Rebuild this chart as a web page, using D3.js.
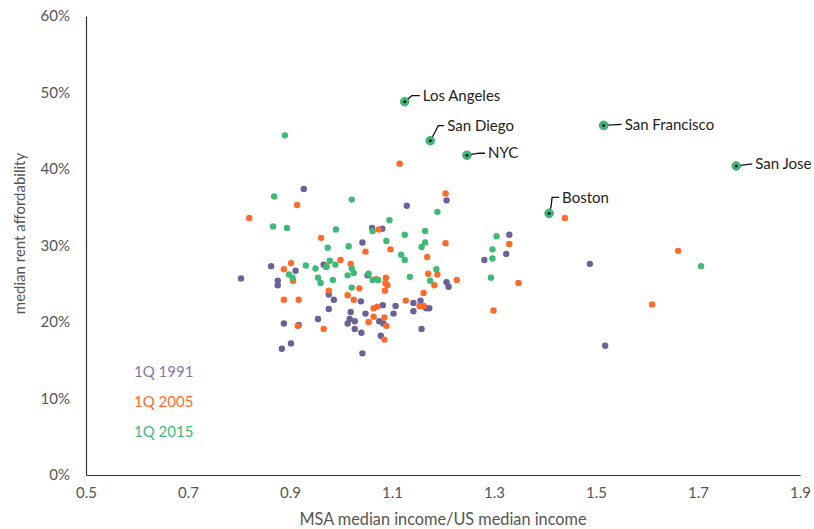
<!DOCTYPE html>
<html>
<head>
<meta charset="utf-8">
<script src="https://cdn.jsdelivr.net/npm/d3@7"></script>
<style>
  body { margin: 0; background: #fff; }
  svg text { font-family: Lato, "Open Sans", sans-serif; }
</style>
</head>
<body>
<div id="chart"></div>
<script>
// [income ratio, rent affordability %]
const q1991 = [
  [0.927, 37.4], [1.061, 32.3], [1.081, 32.2], [1.042, 30.4], [0.966, 27.5], [0.863, 27.3],
  [0.911, 26.7], [0.804, 25.7], [0.876, 25.4], [0.876, 24.8], [1.052, 26.1], [0.976, 23.6],
  [0.986, 22.9], [1.039, 22.7], [0.976, 21.7], [1.019, 21.3], [1.048, 21.1], [1.075, 20.1],
  [0.955, 20.4], [1.017, 20.4], [1.027, 20.1], [1.013, 19.8], [0.888, 19.8], [0.917, 19.6],
  [1.027, 19.1], [1.040, 18.6], [1.078, 18.2], [0.902, 17.2], [0.884, 16.5], [1.042, 15.9],
  [1.083, 19.8], [1.129, 35.2], [1.207, 35.9], [1.207, 25.2], [1.211, 24.6], [1.082, 22.2],
  [1.107, 22.1], [1.142, 22.5], [1.156, 22.8], [1.167, 21.8], [1.173, 21.8], [1.142, 21.4],
  [1.103, 21.1], [1.158, 19.1], [1.330, 31.4], [1.324, 28.9], [1.281, 28.1], [1.488, 27.6],
  [1.518, 16.9]
];
const q2005 = [
  [0.914, 35.3], [0.820, 33.6], [1.074, 32.1], [0.961, 31.0], [1.048, 29.2], [0.999, 28.1],
  [0.902, 27.7], [0.972, 27.3], [1.019, 27.6], [0.888, 26.9], [0.906, 25.4], [1.036, 24.4],
  [0.976, 24.1], [1.013, 23.5], [1.025, 22.9], [0.888, 22.9], [0.917, 22.9], [1.064, 21.8],
  [1.071, 22.0], [1.064, 20.7], [1.054, 20.0], [0.915, 19.5], [0.966, 19.1], [1.069, 25.6],
  [1.088, 25.8], [1.087, 25.1], [1.091, 24.8], [1.086, 24.1], [1.085, 20.6], [1.089, 19.5],
  [1.085, 17.7], [1.115, 40.7], [1.205, 36.8], [1.097, 29.5], [1.205, 30.3], [1.169, 28.5],
  [1.171, 26.3], [1.189, 26.2], [1.183, 24.8], [1.227, 25.5], [1.162, 23.8], [1.127, 22.8],
  [1.154, 22.1], [1.162, 22.1], [1.330, 30.2], [1.348, 25.1], [1.299, 21.5], [1.439, 33.6],
  [1.661, 29.3], [1.610, 22.3]
];
const q2015 = [
  [0.890, 44.4], [0.869, 36.4], [1.021, 36.0], [0.867, 32.5], [0.894, 32.3], [0.990, 32.1],
  [1.062, 31.9], [0.974, 29.7], [1.015, 29.9], [0.931, 27.4], [0.950, 27.0], [0.971, 27.2],
  [0.978, 28.0], [0.989, 27.5], [1.021, 27.0], [1.025, 26.4], [0.898, 26.2], [0.905, 25.8],
  [0.955, 25.8], [0.960, 25.1], [0.984, 25.5], [1.013, 26.1], [1.054, 26.3], [1.062, 25.5],
  [1.073, 25.5], [1.021, 24.5], [1.095, 33.3], [1.189, 34.4], [1.165, 31.9], [1.125, 31.4],
  [1.089, 30.6], [1.165, 30.4], [1.158, 29.8], [1.118, 28.8], [1.125, 28.1], [1.187, 26.9],
  [1.135, 25.9], [1.175, 25.4], [1.305, 31.2], [1.297, 29.5], [1.297, 28.3], [1.294, 25.8],
  [1.706, 27.3]
];
const cityNames = ['Los Angeles', 'San Diego', 'NYC', 'San Francisco', 'San Jose', 'Boston'];
const cityValues = [[1.125, 48.8], [1.175, 43.7], [1.247, 41.8], [1.515, 45.7], [1.775, 40.4], [1.408, 34.2]];
const seriesNames = ['1Q 1991', '1Q 2005', '1Q 2015'];
const xTicks = [0.5, 0.7, 0.9, 1.1, 1.3, 1.5, 1.7, 1.9];
const yTicks = [0, 10, 20, 30, 40, 50, 60];

const colors = ['#6b6199', '#ff6a2a', '#3dba78'];
const legendColors = ['#8479ad', '#ff6a2a', '#3dba78'];
// leader line bends (pixels from the dot)
const leaders = [
  [[7, -6], [15, -6]],
  [[5, -9], [8, -15], [14, -15]],
  [[12, -2], [18, -2]],
  [[18, -1]],
  [[16, -2]],
  [[2, -7], [3, -16], [10, -16]]
];

const width = 814, height = 529;
const margin = { top: 16, right: 14, bottom: 54, left: 86 };

const svg = d3.select('#chart').append('svg')
  .attr('width', width).attr('height', height);

const x = d3.scaleLinear().domain([0.5, 1.9]).range([margin.left, width - margin.right]);
const y = d3.scaleLinear().domain([0, 60]).range([height - margin.bottom, margin.top]);

const xAxis = svg.append('g')
  .attr('transform', `translate(0,${height - margin.bottom})`)
  .call(d3.axisBottom(x).tickValues(xTicks).tickSize(0).tickPadding(12).tickFormat(d3.format('.1f')));
const yAxis = svg.append('g')
  .attr('transform', `translate(${margin.left},0)`)
  .call(d3.axisLeft(y).tickValues(yTicks).tickSize(0).tickPadding(16).tickFormat((d) => d + '%'));

[xAxis, yAxis].forEach((g) => {
  g.select('.domain').attr('stroke', '#333').attr('stroke-width', 1.2);
  g.selectAll('text').attr('fill', '#555').style('font-size', '15px');
});

svg.append('text')
  .attr('x', 443)
  .attr('y', 525)
  .attr('text-anchor', 'middle')
  .attr('fill', '#555').style('font-size', '16.3px')
  .text('MSA median income/US median income');

svg.append('text')
  .attr('transform', `translate(25,${y(30) - 12}) rotate(-90)`)
  .attr('text-anchor', 'middle')
  .attr('fill', '#555').style('font-size', '15px')
  .text('median rent affordability');

[q1991, q2005, q2015].forEach((series, i) => {
  svg.append('g')
    .selectAll('circle')
    .data(series)
    .join('circle')
    .attr('cx', (d) => x(d[0]))
    .attr('cy', (d) => y(d[1]))
    .attr('r', 3.2)
    .attr('fill', colors[i]);
});

// labelled cities
const cities = cityNames.map((name, i) => ({ name, v: cityValues[i], pts: leaders[i] }));
const cg = svg.append('g').selectAll('g').data(cities).join('g')
  .attr('transform', (d) => `translate(${x(d.v[0])},${y(d.v[1])})`);

cg.append('path')
  .attr('d', (d) => d3.line()([[0, 0], ...d.pts]))
  .attr('fill', 'none')
  .attr('stroke', '#111')
  .attr('stroke-width', 1.3);
cg.append('circle').attr('r', 4.3).attr('fill', colors[2]).attr('stroke', '#2c9a60').attr('stroke-width', 0.8);
cg.append('circle').attr('r', 1.5).attr('fill', '#111');
cg.append('text')
  .attr('x', (d) => d.pts[d.pts.length - 1][0] + 3)
  .attr('y', (d) => d.pts[d.pts.length - 1][1])
  .attr('dy', '0.35em')
  .attr('fill', '#222')
  .style('font-size', '15px')
  .text((d) => d.name);

// legend
svg.append('g').selectAll('text').data(seriesNames).join('text')
  .attr('x', 134)
  .attr('y', (d, i) => 372 + i * 30)
  .attr('dy', '0.35em')
  .attr('fill', (d, i) => legendColors[i])
  .style('font-size', '15px')
  .text((d) => d);
</script>
</body>
</html>
